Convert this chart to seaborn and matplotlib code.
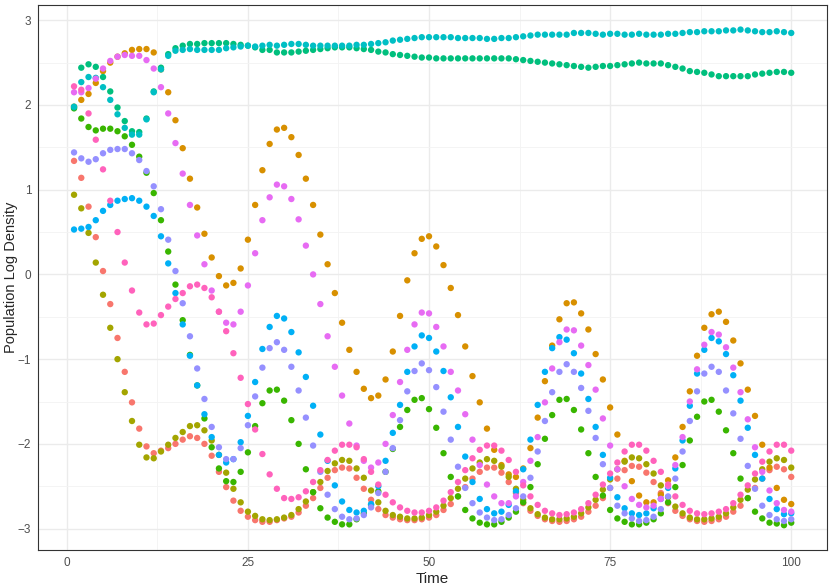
import numpy as np
import pandas as pd
import matplotlib
matplotlib.use("Agg")
import matplotlib.pyplot as plt
import seaborn as sns

time = list(range(1, 101))

sp_red = [1.34, 1.14, 0.80, 0.44, 0.04, -0.35, -0.75, -1.15, -1.51, -1.82,
          -2.03, -2.11, -2.08, -2.05, -2.00, -1.95, -1.91, -1.93, -2.00, -2.14,
          -2.33, -2.51, -2.67, -2.79, -2.86, -2.90, -2.92, -2.92, -2.90, -2.88,
          -2.86, -2.81, -2.73, -2.64, -2.52, -2.40, -2.31, -2.28, -2.29, -2.40,
          -2.53, -2.66, -2.77, -2.84, -2.87, -2.89, -2.90, -2.90, -2.89, -2.87,
          -2.84, -2.78, -2.71, -2.62, -2.51, -2.41, -2.33, -2.28, -2.28, -2.34,
          -2.45, -2.58, -2.70, -2.79, -2.85, -2.89, -2.91, -2.92, -2.91, -2.89,
          -2.86, -2.80, -2.73, -2.64, -2.52, -2.41, -2.31, -2.26, -2.27, -2.34,
          -2.45, -2.58, -2.70, -2.79, -2.85, -2.89, -2.91, -2.92, -2.91, -2.89,
          -2.86, -2.80, -2.73, -2.64, -2.52, -2.41, -2.31, -2.27, -2.30, -2.39]

sp_orange = [1.98, 2.06, 2.13, 2.26, 2.40, 2.50, 2.57, 2.61, 2.65, 2.66,
             2.66, 2.62, 2.42, 2.15, 1.82, 1.49, 1.13, 0.79, 0.48, 0.20,
             -0.02, -0.13, -0.10, 0.07, 0.41, 0.82, 1.23, 1.54, 1.71, 1.73,
             1.62, 1.41, 1.13, 0.82, 0.47, 0.12, -0.22, -0.57, -0.89, -1.15,
             -1.35, -1.46, -1.43, -1.24, -0.91, -0.49, -0.07, 0.25, 0.42, 0.45,
             0.33, 0.11, -0.16, -0.48, -0.85, -1.20, -1.51, -1.82, -2.07, -2.25,
             -2.36, -2.39, -2.29, -2.05, -1.69, -1.26, -0.84, -0.53, -0.34, -0.33,
             -0.46, -0.65, -0.94, -1.24, -1.57, -1.89, -2.20, -2.44, -2.61, -2.69,
             -2.69, -2.60, -2.43, -2.16, -1.80, -1.38, -0.96, -0.63, -0.47, -0.44,
             -0.56, -0.78, -1.05, -1.36, -1.67, -2.01, -2.28, -2.52, -2.66, -2.71]

sp_olive = [0.94, 0.78, 0.49, 0.14, -0.24, -0.63, -1.00, -1.39, -1.73, -2.01,
            -2.16, -2.17, -2.09, -2.01, -1.93, -1.86, -1.79, -1.78, -1.84, -1.96,
            -2.13, -2.34, -2.53, -2.69, -2.80, -2.85, -2.89, -2.90, -2.89, -2.87,
            -2.84, -2.77, -2.68, -2.57, -2.45, -2.32, -2.23, -2.19, -2.20, -2.29,
            -2.40, -2.55, -2.69, -2.79, -2.84, -2.86, -2.88, -2.88, -2.87, -2.84,
            -2.80, -2.73, -2.64, -2.53, -2.41, -2.29, -2.22, -2.18, -2.20, -2.27,
            -2.39, -2.53, -2.66, -2.76, -2.83, -2.87, -2.89, -2.89, -2.88, -2.86,
            -2.82, -2.75, -2.66, -2.54, -2.42, -2.30, -2.21, -2.16, -2.17, -2.24,
            -2.35, -2.49, -2.63, -2.74, -2.82, -2.87, -2.89, -2.89, -2.88, -2.86,
            -2.82, -2.75, -2.66, -2.54, -2.42, -2.30, -2.21, -2.17, -2.19, -2.28]

sp_green = [1.96, 1.84, 1.74, 1.70, 1.72, 1.72, 1.69, 1.63, 1.53, 1.39,
            1.20, 0.96, 0.64, 0.27, -0.12, -0.54, -0.95, -1.31, -1.70, -2.04,
            -2.29, -2.44, -2.45, -2.33, -2.10, -1.79, -1.52, -1.37, -1.36, -1.49,
            -1.72, -2.00, -2.30, -2.57, -2.76, -2.87, -2.92, -2.95, -2.95, -2.89,
            -2.82, -2.72, -2.56, -2.33, -2.06, -1.80, -1.60, -1.48, -1.46, -1.59,
            -1.81, -2.11, -2.39, -2.62, -2.78, -2.88, -2.93, -2.95, -2.95, -2.92,
            -2.87, -2.80, -2.69, -2.51, -2.24, -1.94, -1.66, -1.48, -1.47, -1.60,
            -1.83, -2.11, -2.39, -2.61, -2.78, -2.88, -2.92, -2.95, -2.95, -2.93,
            -2.89, -2.82, -2.69, -2.51, -2.25, -1.96, -1.68, -1.50, -1.48, -1.62,
            -1.84, -2.11, -2.41, -2.64, -2.80, -2.88, -2.93, -2.94, -2.96, -2.93]

sp_teal = [1.97, 2.44, 2.48, 2.45, 2.33, 2.16, 1.97, 1.81, 1.69, 1.68,
           1.84, 2.16, 2.44, 2.60, 2.67, 2.70, 2.72, 2.72, 2.73, 2.73,
           2.73, 2.73, 2.72, 2.71, 2.70, 2.68, 2.65, 2.65, 2.62, 2.62,
           2.62, 2.63, 2.64, 2.65, 2.66, 2.67, 2.68, 2.68, 2.68, 2.67,
           2.66, 2.65, 2.63, 2.62, 2.60, 2.59, 2.58, 2.57, 2.56, 2.56,
           2.55, 2.55, 2.55, 2.55, 2.55, 2.55, 2.55, 2.55, 2.55, 2.55,
           2.55, 2.54, 2.53, 2.52, 2.51, 2.50, 2.49, 2.48, 2.47, 2.46,
           2.45, 2.44, 2.45, 2.46, 2.46, 2.47, 2.48, 2.49, 2.50, 2.49,
           2.49, 2.49, 2.47, 2.45, 2.43, 2.40, 2.39, 2.38, 2.36, 2.34,
           2.34, 2.34, 2.34, 2.34, 2.36, 2.37, 2.38, 2.39, 2.39, 2.38]

sp_cyan = [1.98, 2.27, 2.33, 2.32, 2.21, 2.06, 1.89, 1.73, 1.65, 1.65,
           1.83, 2.15, 2.42, 2.58, 2.64, 2.65, 2.66, 2.65, 2.65, 2.65,
           2.65, 2.67, 2.68, 2.69, 2.70, 2.69, 2.70, 2.71, 2.70, 2.71,
           2.72, 2.72, 2.71, 2.70, 2.70, 2.70, 2.70, 2.70, 2.70, 2.71,
           2.71, 2.72, 2.73, 2.74, 2.76, 2.77, 2.78, 2.79, 2.80, 2.80,
           2.80, 2.80, 2.80, 2.79, 2.79, 2.79, 2.79, 2.78, 2.78, 2.79,
           2.79, 2.80, 2.81, 2.82, 2.83, 2.83, 2.83, 2.83, 2.83, 2.85,
           2.85, 2.85, 2.84, 2.83, 2.84, 2.84, 2.83, 2.83, 2.84, 2.83,
           2.83, 2.83, 2.84, 2.84, 2.85, 2.86, 2.86, 2.87, 2.87, 2.87,
           2.88, 2.88, 2.89, 2.88, 2.87, 2.86, 2.86, 2.87, 2.86, 2.85]

sp_blue = [0.53, 0.54, 0.56, 0.64, 0.75, 0.82, 0.87, 0.89, 0.90, 0.87,
           0.80, 0.69, 0.45, 0.13, -0.22, -0.59, -0.96, -1.31, -1.65, -1.92,
           -2.13, -2.22, -2.18, -1.98, -1.67, -1.27, -0.88, -0.62, -0.49, -0.52,
           -0.68, -0.92, -1.21, -1.55, -1.89, -2.20, -2.49, -2.68, -2.78, -2.81,
           -2.79, -2.71, -2.50, -2.20, -1.87, -1.54, -1.15, -0.85, -0.72, -0.75,
           -0.91, -1.14, -1.45, -1.80, -2.15, -2.45, -2.65, -2.77, -2.82, -2.80,
           -2.72, -2.56, -2.30, -1.95, -1.54, -1.15, -0.87, -0.74, -0.77, -0.93,
           -1.17, -1.47, -1.80, -2.13, -2.40, -2.63, -2.76, -2.82, -2.84, -2.82,
           -2.76, -2.65, -2.52, -2.29, -1.96, -1.55, -1.17, -0.89, -0.75, -0.79,
           -0.94, -1.19, -1.49, -1.81, -2.13, -2.41, -2.65, -2.77, -2.83, -2.82]

sp_purple = [1.44, 1.37, 1.33, 1.36, 1.43, 1.47, 1.48, 1.48, 1.43, 1.35,
             1.22, 1.04, 0.77, 0.41, 0.04, -0.34, -0.73, -1.11, -1.47, -1.80,
             -2.04, -2.18, -2.18, -2.05, -1.78, -1.44, -1.10, -0.87, -0.80, -0.89,
             -1.09, -1.37, -1.69, -2.02, -2.33, -2.60, -2.77, -2.86, -2.89, -2.88,
             -2.84, -2.75, -2.58, -2.33, -2.05, -1.72, -1.38, -1.14, -1.05, -1.13,
             -1.33, -1.62, -1.95, -2.27, -2.52, -2.70, -2.81, -2.87, -2.90, -2.89,
             -2.84, -2.76, -2.62, -2.40, -2.09, -1.73, -1.39, -1.15, -1.06, -1.15,
             -1.34, -1.61, -1.93, -2.24, -2.52, -2.73, -2.82, -2.88, -2.91, -2.90,
             -2.86, -2.77, -2.62, -2.41, -2.09, -1.73, -1.38, -1.17, -1.09, -1.15,
             -1.37, -1.64, -1.94, -2.26, -2.53, -2.73, -2.84, -2.89, -2.91, -2.89]

sp_magenta = [2.15, 2.15, 2.20, 2.31, 2.43, 2.52, 2.57, 2.59, 2.58, 2.58,
              2.53, 2.43, 2.21, 1.90, 1.55, 1.19, 0.82, 0.46, 0.12, -0.19,
              -0.44, -0.57, -0.59, -0.44, -0.13, 0.25, 0.64, 0.91, 1.06, 1.04,
              0.89, 0.65, 0.34, 0.00, -0.35, -0.73, -1.09, -1.43, -1.76, -2.02,
              -2.20, -2.28, -2.22, -2.00, -1.66, -1.27, -0.89, -0.59, -0.45, -0.46,
              -0.62, -0.85, -1.15, -1.37, -1.65, -1.95, -2.25, -2.48, -2.62, -2.70,
              -2.70, -2.62, -2.45, -2.20, -1.92, -1.51, -1.11, -0.80, -0.65, -0.66,
              -0.84, -1.07, -1.36, -1.70, -2.02, -2.30, -2.50, -2.65, -2.72, -2.75,
              -2.73, -2.65, -2.50, -2.25, -1.92, -1.50, -1.12, -0.83, -0.68, -0.71,
              -0.86, -1.10, -1.39, -1.71, -2.04, -2.33, -2.55, -2.70, -2.78, -2.80]

sp_pink = [2.22, 2.18, 1.90, 1.59, 1.24, 0.87, 0.50, 0.14, -0.19, -0.45,
           -0.59, -0.58, -0.48, -0.38, -0.29, -0.22, -0.14, -0.12, -0.16, -0.27,
           -0.44, -0.67, -0.93, -1.22, -1.53, -1.83, -2.12, -2.36, -2.53, -2.64,
           -2.65, -2.63, -2.56, -2.45, -2.31, -2.19, -2.08, -2.01, -2.01, -2.04,
           -2.18, -2.33, -2.48, -2.60, -2.69, -2.75, -2.79, -2.81, -2.81, -2.79,
           -2.75, -2.67, -2.57, -2.45, -2.31, -2.17, -2.07, -2.02, -2.02, -2.08,
           -2.19, -2.33, -2.49, -2.62, -2.72, -2.79, -2.82, -2.84, -2.83, -2.81,
           -2.77, -2.70, -2.60, -2.48, -2.35, -2.22, -2.09, -2.01, -2.01, -2.08,
           -2.20, -2.33, -2.48, -2.62, -2.72, -2.79, -2.82, -2.83, -2.82, -2.80,
           -2.77, -2.70, -2.60, -2.49, -2.35, -2.21, -2.09, -2.01, -2.01, -2.08]

species = ["sp01", "sp02", "sp03", "sp04", "sp05", "sp06", "sp07", "sp08", "sp09", "sp10"]
series = [sp_red, sp_orange, sp_olive, sp_green, sp_teal,
          sp_cyan, sp_blue, sp_purple, sp_magenta, sp_pink]
colors = ["#F8766D", "#D89000", "#A3A500", "#39B600", "#00BF7D",
          "#00BFC4", "#00B0F6", "#9590FF", "#E76BF3", "#FF62BC"]

df = pd.concat(
    [pd.DataFrame({"Time": time, "Density": vals, "Species": name})
     for name, vals in zip(species, series)],
    ignore_index=True,
)

sns.set_theme(style="white")
plt.rcParams["font.family"] = ["Liberation Sans", "DejaVu Sans"]

fig = plt.figure(figsize=(8.3, 5.88), dpi=100)
ax = fig.add_axes([0.046, 0.065, 0.9505, 0.9265])

sns.scatterplot(data=df, x="Time", y="Density", hue="Species",
                palette=dict(zip(species, colors)), s=21, linewidth=0,
                legend=False, ax=ax, zorder=3)

ax.set_xlim(-3.95, 104.95)
ax.set_ylim(-3.25, 3.18)
ax.set_xticks([0, 25, 50, 75, 100])
ax.set_xticks([12.5, 37.5, 62.5, 87.5], minor=True)
ax.set_yticks([-3, -2, -1, 0, 1, 2, 3])
ax.set_yticks([-2.5, -1.5, -0.5, 0.5, 1.5, 2.5], minor=True)
ax.grid(which="major", color="#EBEBEB", linewidth=1.0, zorder=0)
ax.grid(which="minor", color="#F3F3F3", linewidth=0.6, zorder=0)
ax.set_axisbelow(True)

for sp in ax.spines.values():
    sp.set_color("#333333")
    sp.set_linewidth(0.8)

ax.tick_params(which="major", length=3, width=0.8, color="#333333",
               labelcolor="#4D4D4D", labelsize=8.5, pad=2)
ax.tick_params(which="minor", length=0)
ax.set_xlabel("Time", fontsize=11, labelpad=2)
ax.set_ylabel("Population Log Density", fontsize=10.5)
ax.yaxis.set_label_coords(-0.026, 0.5)

fig.savefig("out.png", dpi=100)
